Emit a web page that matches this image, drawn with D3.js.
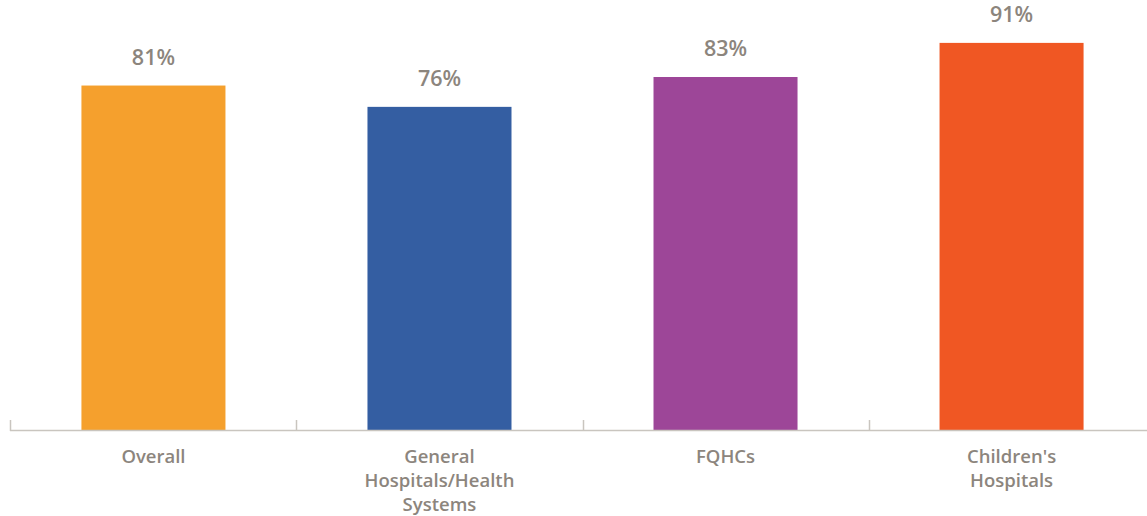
<!DOCTYPE html>
<html><head><meta charset="utf-8">
<script src="https://cdn.jsdelivr.net/npm/d3@7"></script>
<style>body{margin:0;background:#fff}svg{display:block}</style>
</head><body>
<svg id="c" width="1147" height="516"></svg>
<script>
const categories = [["Overall"], ["General", "Hospitals/Health", "Systems"], ["FQHCs"], ["Children's", "Hospitals"]];
const values = [81, 76, 83, 91];
const valueLabels = ["81%", "76%", "83%", "91%"];
const colors = ["#F5A02D", "#345EA2", "#9D4698", "#F05723"];

const svg = d3.select("#c");
const ids = d3.range(categories.length);
const x = d3.scaleBand().domain(ids).range([10.5, 1154.5]).paddingInner(0.4965).paddingOuter(0.248);
const y = d3.scaleLinear().domain([0, 100]).range([431, 4.5]);
const textColor = "#8C857D";
const font = "'Open Sans', sans-serif";

svg.selectAll("rect.bar").data(ids).join("rect")
  .attr("x", d => x(d)).attr("width", x.bandwidth())
  .attr("y", d => y(values[d])).attr("height", d => y(0) - y(values[d]))
  .attr("fill", d => colors[d]);

const gap = (x.step() - x.bandwidth()) / 2;
// axis line
svg.append("line").attr("x1", 10).attr("x2", 1147).attr("y1", 430.5).attr("y2", 430.5)
  .attr("stroke", "#C9C5BF").attr("stroke-width", 1.5);
svg.selectAll("line.tick").data(ids).join("line")
  .attr("x1", d => Math.round(x(d) - gap) + 0.5).attr("x2", d => Math.round(x(d) - gap) + 0.5)
  .attr("y1", 420).attr("y2", 431).attr("stroke", "#C9C5BF").attr("stroke-width", 1.5);

// value labels
svg.selectAll("text.val").data(ids).join("text")
  .attr("x", d => x(d) + x.bandwidth() / 2).attr("y", d => y(values[d]) - 21)
  .attr("text-anchor", "middle").attr("fill", textColor)
  .style("font-family", font).style("font-weight", 600).style("font-size", "21.5px")
  .text(d => valueLabels[d]);

// category labels
const cl = svg.selectAll("text.cat").data(ids).join("text")
  .attr("text-anchor", "middle").attr("fill", textColor)
  .style("font-family", font).style("font-weight", 600).style("font-size", "18.5px");
cl.each(function(d) {
  const t = d3.select(this);
  categories[d].forEach((line, i) => {
    t.append("tspan").attr("x", x(d) + x.bandwidth() / 2).attr("y", 463 + i * 24).text(line);
  });
});
</script>
</body></html>
